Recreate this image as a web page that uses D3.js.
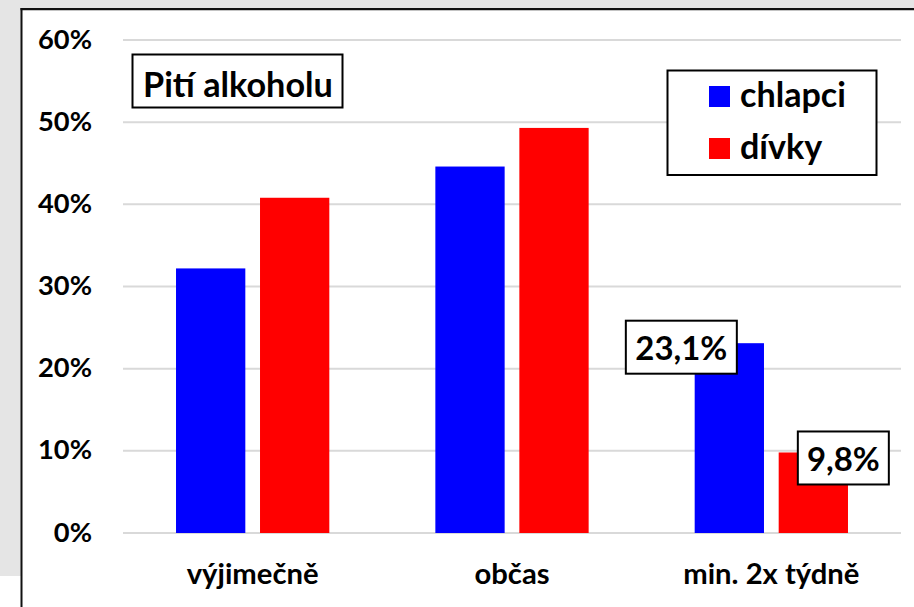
<!DOCTYPE html>
<html>
<head>
<meta charset="utf-8">
<script src="https://cdn.jsdelivr.net/npm/d3@7"></script>
<style>
  html, body { margin: 0; padding: 0; background: #ffffff; }
  svg { display: block; }
  text { font-family: Lato, "Open Sans", sans-serif; font-weight: 700; fill: #000; }
</style>
</head>
<body>
<svg id="chart" width="914" height="607"></svg>
<script>
// ---- data ----
const categories = ["výjimečně", "občas", "min. 2x týdně"];
const seriesNames = ["chlapci", "dívky"];
const chlapci = [32.2, 44.6, 23.1];
const divky = [40.8, 49.3, 9.8];
const yTicks = [0, 10, 20, 30, 40, 50, 60];
const titleText = "Pití alkoholu";
const labeledCategory = "min. 2x týdně";

const colors = { "chlapci": "#0000ff", "dívky": "#ff0000" };

const svg = d3.select("#chart");
const W = 914, H = 607;

// background & frame
svg.append("rect").attr("x", 0).attr("y", 0).attr("width", W).attr("height", H).attr("fill", "#ffffff");
svg.append("rect").attr("x", 0).attr("y", 0).attr("width", W).attr("height", 8).attr("fill", "#e5e5e5");
svg.append("rect").attr("x", 0).attr("y", 0).attr("width", 21).attr("height", 576).attr("fill", "#e5e5e5");
svg.append("line").attr("x1", 20.5).attr("x2", W).attr("y1", 9.2).attr("y2", 9.2).attr("stroke", "#111").attr("stroke-width", 2.2);
svg.append("line").attr("x1", 21.5).attr("x2", 21.5).attr("y1", 8).attr("y2", H).attr("stroke", "#111").attr("stroke-width", 2);

// scales
const y = d3.scaleLinear().domain([0, 60]).range([533, 40]);
const x0 = d3.scaleBand().domain(categories).range([123, 901]).padding(0);
const groupW = 153.3;
const x1 = d3.scaleBand().domain(seriesNames).range([0, groupW]).paddingInner(0.175).paddingOuter(0);
const groupOffset = (x0.bandwidth() - groupW) / 2;

function fitSize(text, targetW) {
  const t = svg.append("text").style("font-size", "20px").text(text);
  const L = t.node().getComputedTextLength();
  t.remove();
  return 20 * targetW / L;
}

// gridlines
svg.append("g").selectAll("line").data(yTicks).join("line")
  .attr("x1", 123).attr("x2", 901)
  .attr("y1", d => y(d)).attr("y2", d => y(d))
  .attr("stroke", "#d9d9d9").attr("stroke-width", 2);

// y tick labels
const tickFs = fitSize("60%", 54);
svg.append("g").selectAll("text").data(yTicks).join("text")
  .attr("x", 92).attr("y", d => y(d) + 8.5)
  .attr("text-anchor", "end")
  .style("font-size", tickFs + "px")
  .text(d => d + "%");

// bars
const rows = categories.map((c, i) => ({ cat: c, vals: [
  { s: "chlapci", v: chlapci[i] },
  { s: "dívky", v: divky[i] }
]}));

const groups = svg.append("g").selectAll("g").data(rows).join("g")
  .attr("transform", d => `translate(${x0(d.cat) + groupOffset},0)`);

groups.selectAll("rect").data(d => d.vals).join("rect")
  .attr("x", d => x1(d.s))
  .attr("width", x1.bandwidth())
  .attr("y", d => y(d.v))
  .attr("height", d => y(0) - y(d.v))
  .attr("fill", d => colors[d.s]);

// category labels
const catFs = fitSize("výjimečně", 132);
svg.append("g").selectAll("text").data(categories).join("text")
  .attr("x", d => x0(d) + x0.bandwidth() / 2)
  .attr("y", 584)
  .attr("text-anchor", "middle")
  .style("font-size", catFs + "px")
  .text(d => d);

// title box
svg.append("rect").attr("x", 132.5).attr("y", 54.5).attr("width", 210).attr("height", 53)
  .attr("fill", "#fff").attr("stroke", "#000").attr("stroke-width", 2);
const titleFs = fitSize(titleText, 190);
svg.append("text").attr("x", 143).attr("y", 97).style("font-size", titleFs + "px").text(titleText);

// legend
svg.append("rect").attr("x", 667.5).attr("y", 70.5).attr("width", 209).attr("height", 104.5)
  .attr("fill", "#fff").attr("stroke", "#000").attr("stroke-width", 2);
const legFs = fitSize("chlapci", 106);
const legY = [86, 138];
seriesNames.forEach((s, i) => {
  svg.append("rect").attr("x", 709).attr("y", legY[i]).attr("width", 21).attr("height", 21).attr("fill", colors[s]);
  svg.append("text").attr("x", 740).attr("y", legY[i] + 20.5).style("font-size", legFs + "px").text(s);
});

// data labels (only last category)
const fmt = v => d3.format(".1f")(v).replace(".", ",") + "%";
const li = categories.indexOf(labeledCategory);
const labelSpecs = [
  { s: "chlapci", v: chlapci[li], dx: -48, dy: 4, w: 111 },
  { s: "dívky", v: divky[li], dx: 30, dy: 5.5, w: 91 }
];
const lblFs = fitSize("23,1%", 92);
labelSpecs.forEach(sp => {
  const cx = x0(labeledCategory) + groupOffset + x1(sp.s) + x1.bandwidth() / 2 + sp.dx;
  const cy = y(sp.v) + sp.dy;
  svg.append("rect").attr("x", cx - sp.w / 2).attr("y", cy - 26.5).attr("width", sp.w).attr("height", 53)
    .attr("fill", "#fff").attr("stroke", "#000").attr("stroke-width", 2);
  svg.append("text").attr("x", cx).attr("y", cy + 13).attr("text-anchor", "middle")
    .style("font-size", lblFs + "px").text(fmt(sp.v));
});
</script>
</body>
</html>
